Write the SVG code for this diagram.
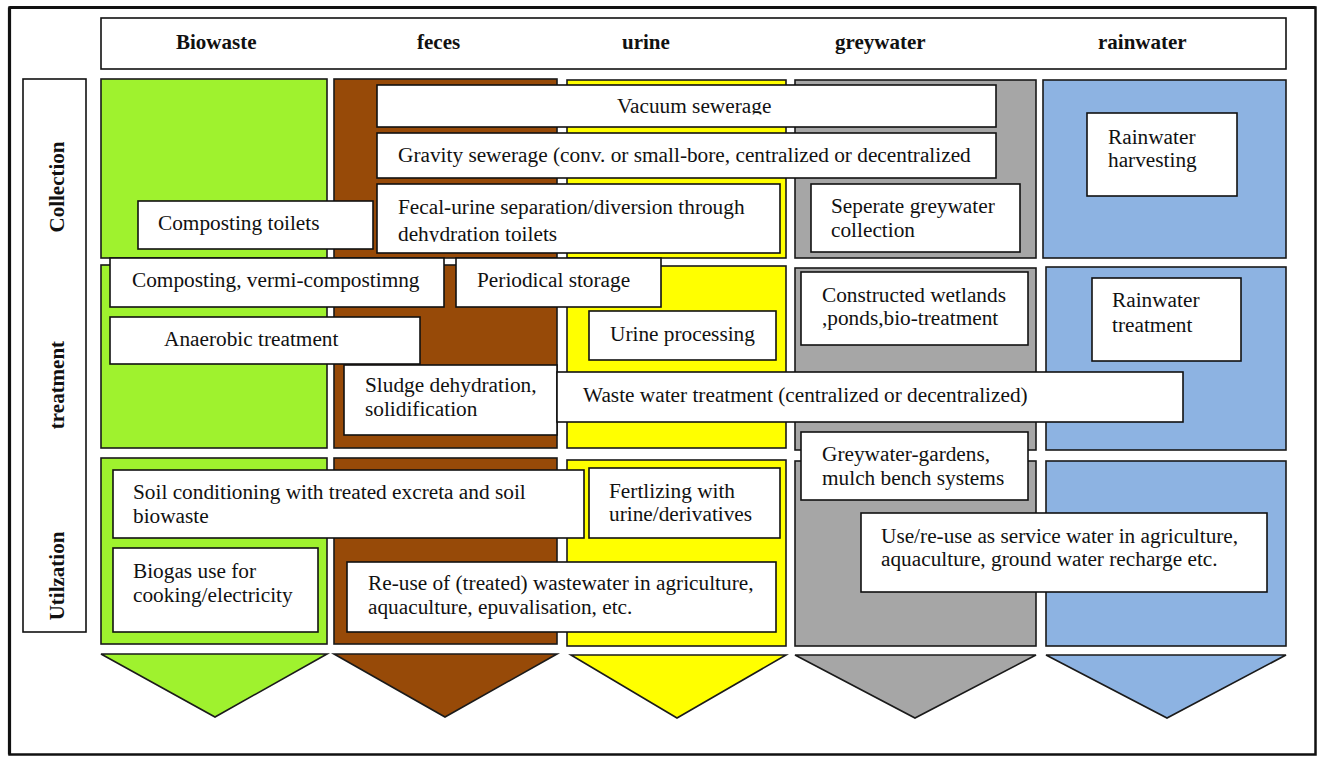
<svg xmlns="http://www.w3.org/2000/svg" width="1321" height="757" viewBox="0 0 1321 757">
  <style>
    .frame { fill: #ffffff; stroke: #111111; }
    .col { stroke: #1a1a1a; stroke-width: 1.6; }
    .bio { fill: #9ff22e; }
    .fec { fill: #974a08; }
    .uri { fill: #ffff00; }
    .gry { fill: #a6a6a6; }
    .rain { fill: #8db3e2; }
    .box { fill: #ffffff; stroke: #111111; stroke-width: 1.6; }
    text { font-family: "Liberation Serif", "Times New Roman", serif; font-size: 21.3px; fill: #111111; }
    .hd { font-weight: bold; font-size: 21px; }
  </style>
  <defs>
    <clipPath id="clipVac"><rect x="378" y="86" width="617" height="28.5"/></clipPath>
    <clipPath id="clipFecal"><rect x="378" y="185" width="401" height="57"/></clipPath>
  </defs>

  <!-- outer frame -->
  <rect class="frame" x="9.5" y="7.5" width="1306" height="747" stroke-width="2.5"/>
  <path d="M9.5 7.5 H1315.5 M9.5 7.5 V754.5" fill="none" stroke="#111111" stroke-width="3.2"/>

  <!-- column headers -->
  <g id="header">
    <rect class="frame" x="101" y="18" width="1185" height="51" stroke-width="1.6"/>
    <text class="hd" x="176" y="49">Biowaste</text>
    <text class="hd" x="417" y="49">feces</text>
    <text class="hd" x="622" y="49">urine</text>
    <text class="hd" x="835" y="49">greywater</text>
    <text class="hd" x="1098" y="49">rainwater</text>
  </g>

  <!-- row labels -->
  <g id="rows">
    <rect class="frame" x="23" y="79" width="63" height="553" stroke-width="1.6"/>
    <text class="hd" transform="translate(64,187) rotate(-90)" text-anchor="middle">Collection</text>
    <text class="hd" transform="translate(64,385) rotate(-90)" text-anchor="middle">treatment</text>
    <text class="hd" transform="translate(64,576) rotate(-90)" text-anchor="middle">Utilzation</text>
  </g>

  <!-- stream columns: collection, treatment, utilization blocks and outflow arrows -->
  <g id="col-biowaste">
    <rect class="col bio" x="101" y="79" width="226" height="179"/>
    <rect class="col bio" x="101" y="265" width="226" height="183"/>
    <rect class="col bio" x="101" y="458" width="226" height="186"/>
    <polygon class="col bio" points="101,654 327,654 215,717"/>
  </g>
  <g id="col-feces">
    <rect class="col fec" x="334" y="79" width="223" height="179"/>
    <rect class="col fec" x="334" y="265" width="223" height="183"/>
    <rect class="col fec" x="334" y="458" width="223" height="186"/>
    <polygon class="col fec" points="334,654 557,654 445,717"/>
  </g>
  <g id="col-urine">
    <rect class="col uri" x="567" y="80" width="219" height="178"/>
    <rect class="col uri" x="567" y="266" width="219" height="182"/>
    <rect class="col uri" x="567" y="460" width="219" height="186"/>
    <polygon class="col uri" points="571,655 786,655 677,718"/>
  </g>
  <g id="col-greywater">
    <rect class="col gry" x="795" y="80" width="241" height="178"/>
    <rect class="col gry" x="795" y="268" width="241" height="182"/>
    <rect class="col gry" x="795" y="461" width="241" height="185"/>
    <polygon class="col gry" points="795,655 1036,655 915,718"/>
  </g>
  <g id="col-rainwater">
    <rect class="col rain" x="1043" y="80" width="243" height="178"/>
    <rect class="col rain" x="1046" y="267" width="240" height="183"/>
    <rect class="col rain" x="1046" y="461" width="240" height="185"/>
    <polygon class="col rain" points="1046,655 1286,655 1167,718"/>
  </g>

  <!-- collection -->
  <g id="vacuum-sewerage">
    <rect class="box" x="377" y="85" width="619" height="42"/>
    <text x="617" y="113" clip-path="url(#clipVac)">Vacuum sewerage</text>
  </g>
  <g id="gravity-sewerage">
    <rect class="box" x="377" y="133" width="619" height="45"/>
    <text x="398" y="162">Gravity sewerage (conv. or small-bore, centralized or decentralized</text>
  </g>
  <g id="fecal-urine-separation">
    <rect class="box" x="377" y="184" width="403" height="69"/>
    <g clip-path="url(#clipFecal)">
      <text x="398" y="214">Fecal-urine separation/diversion through</text>
      <text x="398" y="241">dehydration toilets</text>
    </g>
  </g>
  <g id="composting-toilets">
    <rect class="box" x="138" y="201" width="235" height="48"/>
    <text x="158" y="230">Composting toilets</text>
  </g>
  <g id="greywater-collection">
    <rect class="box" x="811" y="184" width="209" height="68"/>
    <text x="831" y="213">Seperate greywater</text>
    <text x="831" y="237">collection</text>
  </g>
  <g id="rainwater-harvesting">
    <rect class="box" x="1087" y="113" width="150" height="83"/>
    <text x="1108" y="144">Rainwater</text>
    <text x="1108" y="167">harvesting</text>
  </g>

  <!-- treatment -->
  <g id="composting">
    <rect class="box" x="110" y="258" width="334" height="49"/>
    <text x="132" y="287">Composting, vermi-compostimng</text>
  </g>
  <g id="periodical-storage">
    <rect class="box" x="456" y="258" width="205" height="49"/>
    <text x="477" y="287">Periodical storage</text>
  </g>
  <g id="anaerobic-treatment">
    <rect class="box" x="110" y="317" width="310" height="47"/>
    <text x="164" y="346">Anaerobic treatment</text>
  </g>
  <g id="sludge-dehydration">
    <rect class="box" x="344" y="365" width="213" height="70"/>
    <text x="365" y="392">Sludge dehydration,</text>
    <text x="365" y="416">solidification</text>
  </g>
  <g id="urine-processing">
    <rect class="box" x="589" y="311" width="187" height="49"/>
    <text x="610" y="341">Urine processing</text>
  </g>
  <g id="wastewater-treatment">
    <rect class="box" x="557" y="372" width="626" height="50"/>
    <text x="583" y="402">Waste water treatment (centralized or decentralized)</text>
  </g>
  <g id="constructed-wetlands">
    <rect class="box" x="801" y="272" width="227" height="73"/>
    <text x="822" y="302">Constructed wetlands</text>
    <text x="822" y="325">,ponds,bio-treatment</text>
  </g>
  <g id="rainwater-treatment">
    <rect class="box" x="1092" y="278" width="149" height="83"/>
    <text x="1112" y="307">Rainwater</text>
    <text x="1112" y="332">treatment</text>
  </g>
  <g id="greywater-gardens">
    <rect class="box" x="801" y="432" width="227" height="68"/>
    <text x="822" y="461">Greywater-gardens,</text>
    <text x="822" y="485">mulch bench systems</text>
  </g>

  <!-- utilization -->
  <g id="soil-conditioning">
    <rect class="box" x="113" y="470" width="471" height="68"/>
    <text x="133" y="499">Soil conditioning with treated excreta and soil</text>
    <text x="133" y="523">biowaste</text>
  </g>
  <g id="fertilizing">
    <rect class="box" x="589" y="468" width="191" height="70"/>
    <text x="609" y="498">Fertlizing with</text>
    <text x="609" y="521">urine/derivatives</text>
  </g>
  <g id="biogas-use">
    <rect class="box" x="113" y="548" width="205" height="84"/>
    <text x="133" y="578">Biogas use for</text>
    <text x="133" y="602">cooking/electricity</text>
  </g>
  <g id="wastewater-reuse">
    <rect class="box" x="347" y="562" width="429" height="70"/>
    <text x="368" y="590">Re-use of (treated) wastewater in agriculture,</text>
    <text x="368" y="614">aquaculture, epuvalisation, etc.</text>
  </g>
  <g id="service-water-reuse">
    <rect class="box" x="861" y="513" width="406" height="79"/>
    <text x="881" y="543">Use/re-use as service water in agriculture,</text>
    <text x="881" y="566">aquaculture, ground water recharge etc.</text>
  </g>

  <!-- no connectors in this chart; the outflow arrows belong to the columns -->
  <g id="connectors"/>
</svg>
